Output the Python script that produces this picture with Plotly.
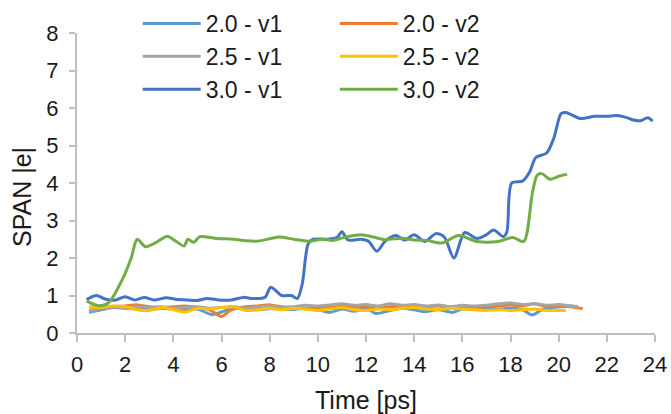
import plotly.graph_objects as go

# Time axis and SPAN values for each run
t_20_v1 = [0.5, 1.0, 1.5, 2.0, 2.5, 3.0, 3.5, 4.0, 4.5, 5.0, 5.6, 6.0, 6.5, 7.0, 7.5, 8.0, 8.5, 9.0,
           9.5, 10.0, 10.5, 11.0, 11.5, 12.0, 12.4, 13.0, 13.5, 14.0, 14.4, 15.0, 15.6, 16.0, 16.5,
           17.0, 17.5, 18.0, 18.5, 18.9, 19.3, 19.7, 20.1, 20.5, 20.8]
v_20_v1 = [0.55, 0.62, 0.68, 0.66, 0.64, 0.62, 0.66, 0.63, 0.62, 0.64, 0.49, 0.56, 0.66, 0.64, 0.62,
           0.65, 0.64, 0.63, 0.66, 0.62, 0.55, 0.64, 0.58, 0.66, 0.52, 0.6, 0.66, 0.62, 0.57, 0.62,
           0.55, 0.64, 0.63, 0.66, 0.64, 0.66, 0.62, 0.48, 0.62, 0.68, 0.7, 0.72, 0.7]

t_20_v2 = [0.5, 1.0, 1.5, 2.0, 2.5, 3.0, 3.5, 4.0, 4.5, 5.0, 5.5, 6.0, 6.4, 7.0, 7.5, 8.0, 8.5, 9.0,
           9.5, 10.0, 10.5, 11.0, 11.5, 12.0, 12.5, 13.0, 13.5, 14.0, 14.5, 15.0, 15.5, 16.0, 16.5,
           17.0, 17.5, 18.0, 18.5, 19.0, 19.5, 20.0, 20.5, 21.0]
v_20_v2 = [0.6, 0.65, 0.7, 0.72, 0.75, 0.7, 0.68, 0.7, 0.72, 0.68, 0.62, 0.44, 0.62, 0.7, 0.72, 0.75,
           0.7, 0.68, 0.65, 0.68, 0.7, 0.72, 0.68, 0.7, 0.66, 0.7, 0.72, 0.68, 0.7, 0.72, 0.68, 0.7,
           0.66, 0.7, 0.72, 0.75, 0.72, 0.78, 0.7, 0.72, 0.7, 0.65]

t_25_v1 = [0.5, 1.0, 1.5, 2.0, 2.5, 3.0, 3.5, 4.0, 4.5, 5.0, 5.5, 6.0, 6.5, 7.0, 7.5, 8.0, 8.5, 9.0,
           9.5, 10.0, 10.5, 11.0, 11.5, 12.0, 12.5, 13.0, 13.5, 14.0, 14.5, 15.0, 15.5, 16.0, 16.5,
           17.0, 17.5, 18.0, 18.5, 19.0, 19.5, 20.0, 20.5, 20.8]
v_25_v1 = [0.6, 0.66, 0.7, 0.68, 0.7, 0.68, 0.7, 0.66, 0.68, 0.7, 0.66, 0.68, 0.7, 0.66, 0.7, 0.72,
           0.68, 0.7, 0.74, 0.72, 0.75, 0.78, 0.74, 0.76, 0.72, 0.78, 0.74, 0.76, 0.72, 0.75, 0.7,
           0.74, 0.72, 0.74, 0.78, 0.8, 0.76, 0.78, 0.74, 0.76, 0.72, 0.7]

t_25_v2 = [0.5, 1.0, 1.5, 2.0, 2.5, 3.0, 3.5, 4.0, 4.5, 5.0, 5.5, 6.0, 6.5, 7.0, 7.5, 8.0, 8.5, 9.0,
           9.5, 10.0, 10.5, 11.0, 11.5, 12.0, 12.5, 13.0, 13.5, 14.0, 14.5, 15.0, 15.5, 16.0, 16.5,
           17.0, 17.5, 18.0, 18.5, 19.0, 19.5, 20.0, 20.3]
v_25_v2 = [0.7, 0.68, 0.72, 0.7, 0.62, 0.6, 0.68, 0.62, 0.56, 0.66, 0.64, 0.68, 0.7, 0.6, 0.62, 0.66,
           0.62, 0.66, 0.64, 0.6, 0.64, 0.68, 0.62, 0.6, 0.64, 0.62, 0.66, 0.68, 0.64, 0.62, 0.66,
           0.64, 0.62, 0.6, 0.62, 0.6, 0.62, 0.64, 0.6, 0.6, 0.6]

t_30_v1 = [0.4, 0.8, 1.2, 1.6, 2.0, 2.4, 2.8, 3.2, 3.7, 4.1, 4.6, 5.0, 5.4, 5.9, 6.4, 6.9, 7.3, 7.8,
           8.05, 8.5, 8.9, 9.15, 9.35, 9.6, 9.8, 10.4, 10.8, 11.0, 11.25, 11.8, 12.1, 12.45, 12.8,
           13.25, 13.6, 14.0, 14.45, 14.9, 15.25, 15.65, 16.1, 16.6, 17.0, 17.3, 17.7, 17.85, 18.05,
           18.5, 18.8, 19.05, 19.5, 19.8, 20.1, 20.3, 20.9, 21.5, 22.0, 22.4, 22.8, 23.1, 23.4,
           23.7, 23.9]
v_30_v1 = [0.89, 1.0, 0.9, 0.88, 0.97, 0.88, 0.95, 0.88, 0.94, 0.9, 0.88, 0.87, 0.92, 0.88, 0.88,
           0.95, 0.92, 0.95, 1.22, 1.0, 1.0, 0.92, 1.3, 2.38, 2.5, 2.5, 2.55, 2.7, 2.48, 2.5, 2.45,
           2.18, 2.45, 2.6, 2.48, 2.62, 2.44, 2.65, 2.56, 2.0, 2.68, 2.52, 2.62, 2.75, 2.57, 2.7,
           4.0, 4.05, 4.3, 4.68, 4.8, 5.2, 5.85, 5.88, 5.72, 5.78, 5.78, 5.8, 5.75, 5.68, 5.66,
           5.74, 5.65]

t_30_v2 = [0.4, 0.9, 1.3, 1.9, 2.25, 2.5, 2.85, 3.3, 3.75, 4.1, 4.45, 4.6, 4.85, 5.1, 5.8, 6.5, 7.0,
           7.5, 8.05, 8.4, 9.0, 9.6, 10.2, 10.6, 11.1, 11.8, 12.3, 12.8, 13.5, 14.0, 14.5, 15.15,
           15.85, 16.6, 17.5, 18.1, 18.55, 18.9, 19.1, 19.3, 19.65, 20.0, 20.35]
v_30_v2 = [0.85, 0.73, 0.8, 1.45, 2.0, 2.5, 2.3, 2.42, 2.58, 2.45, 2.32, 2.5, 2.42, 2.57, 2.52, 2.5,
           2.46, 2.45, 2.52, 2.56, 2.5, 2.45, 2.5, 2.47, 2.55, 2.62, 2.56, 2.49, 2.53, 2.48, 2.47,
           2.4, 2.6, 2.44, 2.44, 2.55, 2.44, 3.7, 4.2, 4.25, 4.1, 4.18, 4.23]

x_ticks = [0, 2, 4, 6, 8, 10, 12, 14, 16, 18, 20, 22, 24]
y_ticks = [0, 1, 2, 3, 4, 5, 6, 7, 8]

series = [
    ("2.0 - v1", t_20_v1, v_20_v1, "#5B9BD5", "legend"),
    ("2.0 - v2", t_20_v2, v_20_v2, "#ED7D31", "legend2"),
    ("2.5 - v1", t_25_v1, v_25_v1, "#A5A5A5", "legend"),
    ("2.5 - v2", t_25_v2, v_25_v2, "#FFC000", "legend2"),
    ("3.0 - v1", t_30_v1, v_30_v1, "#4472C4", "legend"),
    ("3.0 - v2", t_30_v2, v_30_v2, "#70AD47", "legend2"),
]

FONT = "Liberation Sans, Arial, sans-serif"
TEXT = "#1a1a1a"
AXIS = "#BFBFBF"

# Paper spans the full top of the page; the y axis only uses the lower part,
# leaving room for the two legend columns above the plot.
PAPER_H = 414 - 81
Y_TOP = (333 - 33) / PAPER_H

fig = go.Figure()
for name, t, v, color, leg in series:
    fig.add_trace(go.Scatter(
        x=t, y=v, name=name, mode="lines", legend=leg,
        line=dict(color=color, width=3, shape="spline", smoothing=0.8),
    ))

legend_style = dict(
    font=dict(family=FONT, size=23, color=TEXT),
    bgcolor="rgba(0,0,0,0)", orientation="v",
    xanchor="left", yanchor="top", tracegroupgap=0,
    itemwidth=58,
)

fig.update_layout(
    width=671, height=414,
    margin=dict(l=77, r=16, t=0, b=81, autoexpand=False),
    paper_bgcolor="white", plot_bgcolor="white",
    font=dict(family=FONT, size=22, color=TEXT),
    showlegend=True,
    legend=dict(x=0.105, y=0.994, **legend_style),
    legend2=dict(x=0.446, y=0.994, **legend_style),
    xaxis=dict(
        range=[0, 24], tickvals=x_ticks, ticktext=[str(v) for v in x_ticks],
        showgrid=False, zeroline=False, showline=True, linecolor=AXIS, linewidth=2,
        ticks="outside", ticklen=7, tickwidth=2, tickcolor=AXIS, ticklabelstandoff=4,
        tickfont=dict(family=FONT, size=22, color=TEXT),
    ),
    yaxis=dict(
        range=[0, 8], domain=[0, Y_TOP], tickvals=y_ticks, ticktext=[str(v) for v in y_ticks],
        showgrid=False, zeroline=False, showline=True, linecolor=AXIS, linewidth=2,
        ticks="outside", ticklen=6, tickwidth=2, tickcolor=AXIS, ticklabelstandoff=6,
        tickfont=dict(family=FONT, size=22, color=TEXT),
    ),
    annotations=[
        dict(
            text="SPAN |e|", textangle=-90, showarrow=False,
            xref="paper", yref="paper", x=(22 - 77) / 578, y=1 - 197 / PAPER_H,
            xanchor="center", yanchor="middle",
            font=dict(family=FONT, size=25, color=TEXT),
        ),
        dict(
            text="Time [ps]", showarrow=False,
            xref="paper", yref="paper", x=0.5, y=-(400 - 333) / PAPER_H,
            xanchor="center", yanchor="middle",
            font=dict(family=FONT, size=25, color=TEXT),
        ),
    ],
)

fig.write_html("out.html")
